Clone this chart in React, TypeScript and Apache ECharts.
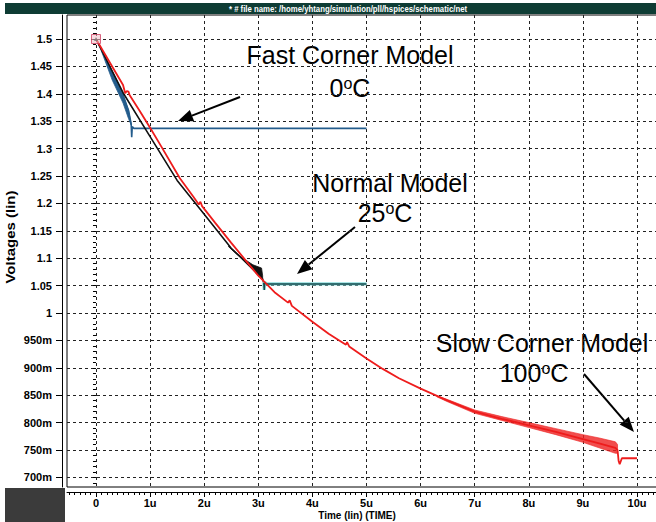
import React, { useEffect, useRef } from 'react';
import * as echarts from 'echarts';

const xTickValues = [0, 1, 2, 3, 4, 5, 6, 7, 8, 9, 10];
const xTickLabels = ['0', '1u', '2u', '3u', '4u', '5u', '6u', '7u', '8u', '9u', '10u'];
const yTickValues = [0.7, 0.75, 0.8, 0.85, 0.9, 0.95, 1, 1.05, 1.1, 1.15, 1.2, 1.25, 1.3, 1.35, 1.4, 1.45, 1.5];
const yTickLabels = ['700m', '750m', '800m', '850m', '900m', '950m', '1', '1.05', '1.1', '1.15', '1.2', '1.25', '1.3', '1.35', '1.4', '1.45', '1.5'];

// Fast corner model, 0 C (blue)
const fastLine: [number, number][] = [
  [0, 1.5], [0.2, 1.46], [0.4, 1.42], [0.5, 1.398], [0.6, 1.37], [0.65, 1.345],
  [0.66, 1.321], [0.67, 1.34], [0.7, 1.337], [5, 1.337],
];
const fastWedgeLower: [number, number][] = [
  [0.1, 1.478], [0.3, 1.425], [0.5, 1.383], [0.6, 1.355], [0.65, 1.343],
];
const fastWedgeUpper: [number, number][] = [
  [0.1, 1.48], [0.2, 1.46], [0.4, 1.42], [0.5, 1.398], [0.6, 1.37], [0.65, 1.345],
];

// Normal model, 25 C (black, then teal flat)
const normalLine: [number, number][] = [
  [0, 1.5], [0.5, 1.402], [1, 1.322], [1.5, 1.242], [2, 1.18], [2.5, 1.118],
  [2.7, 1.099], [3, 1.07], [3.08, 1.062], [3.1, 1.055],
];
const normalWedgeUpper: [number, number][] = [
  [2.45, 1.122], [2.7, 1.101], [2.9, 1.088], [3.06, 1.082], [3.08, 1.068],
];
const normalWedgeLower: [number, number][] = [
  [2.45, 1.121], [2.7, 1.099], [3, 1.07], [3.08, 1.062],
];
const normalFlat: [number, number][] = [
  [3.1, 1.055], [3.11, 1.042], [3.12, 1.056], [3.15, 1.053], [5, 1.053],
];

// Slow corner model, 100 C (red)
const slowLine: [number, number][] = [
  [0, 1.5], [0.25, 1.458], [0.5, 1.416], [0.54, 1.401], [0.57, 1.405], [0.6, 1.404],
  [0.62, 1.398], [0.8, 1.37], [1, 1.338], [1.2, 1.305], [1.55, 1.246], [1.8, 1.212],
  [1.9, 1.198], [1.93, 1.203], [1.96, 1.195], [2.2, 1.165], [2.5, 1.128], [2.8, 1.092],
  [3, 1.068], [3.3, 1.038], [3.55, 1.019], [3.58, 1.023], [3.62, 1.013], [4, 0.984],
  [4.3, 0.962], [4.62, 0.942], [4.64, 0.947], [4.68, 0.939], [5, 0.917], [5.3, 0.898],
  [5.6, 0.881], [6, 0.862], [6.5, 0.84], [7, 0.82], [7.5, 0.807], [8, 0.795],
  [8.5, 0.783], [9, 0.77], [9.3, 0.762], [9.6, 0.754], [9.64, 0.75], [9.66, 0.73],
  [9.68, 0.724], [9.72, 0.735], [10, 0.735],
];
const slowBandUpper: [number, number][] = [
  [6.3, 0.849], [6.5, 0.842], [7, 0.823], [7.5, 0.811], [8, 0.8], [8.5, 0.789],
  [9, 0.778], [9.3, 0.772], [9.6, 0.765], [9.64, 0.76],
];
const slowBandLower: [number, number][] = [
  [6.3, 0.847], [6.5, 0.838], [7, 0.817], [7.5, 0.804], [8, 0.791], [8.5, 0.778],
  [9, 0.764], [9.3, 0.754], [9.6, 0.744], [9.64, 0.744],
];

const startMarker: [number, number][] = [[0, 1.5]];

const LABEL_FONT = '"Liberation Sans", Arial, sans-serif';

function bandSeries(upper: [number, number][], lower: [number, number][], color: string, z: number, opacity = 1) {
  return {
    type: 'custom',
    coordinateSystem: 'cartesian2d',
    silent: true,
    z,
    data: [[upper[0][0], upper[0][1]]],
    renderItem: (_params: any, api: any) => ({
      type: 'polygon',
      shape: { points: [...upper, ...lower.slice().reverse()].map((p) => api.coord(p)) },
      style: { fill: color, stroke: color, lineWidth: 0.8, opacity },
    }),
  };
}

function arrow(x1: number, y1: number, x2: number, y2: number) {
  const ang = Math.atan2(y2 - y1, x2 - x1);
  const len = 15;
  const half = 6;
  const bx = x2 - len * Math.cos(ang);
  const by = y2 - len * Math.sin(ang);
  const px = -Math.sin(ang) * half;
  const py = Math.cos(ang) * half;
  return [
    { type: 'line', silent: true, shape: { x1, y1, x2: bx, y2: by }, style: { stroke: '#000', lineWidth: 2 } },
    {
      type: 'polygon', silent: true,
      shape: { points: [[x2, y2], [bx + px, by + py], [bx - px, by - py]] },
      style: { fill: '#000' },
    },
  ];
}

function annot(text: string, cx: number, cy: number) {
  return {
    type: 'text', silent: true, x: cx, y: cy,
    style: {
      text,
      textAlign: 'center', textVerticalAlign: 'middle',
      fill: '#000',
      font: '25px "Liberation Sans", Arial, sans-serif',
      rich: {
        s: { fontSize: 16, verticalAlign: 'top', fill: '#000', fontFamily: '"Liberation Sans", Arial, sans-serif' },
      },
    },
  };
}

const X_MIN = -0.536;
const X_MAX = 10.924;
const Y_MIN = 0.6825;
const Y_MAX = 1.5438;

function minorValues(from: number, to: number, step: number) {
  const out: number[] = [];
  const n = Math.round((to - from) / step);
  for (let i = 0; i <= n; i++) out.push(+(from + i * step).toFixed(4));
  return out;
}

export default function App() {
  const ref = useRef<HTMLDivElement>(null);
  useEffect(() => {
    if (!ref.current) return;
    const chart = echarts.init(ref.current, undefined, { renderer: 'svg' });
    const labelOf = (vals: number[], labels: string[]) => (v: number) => {
      const i = vals.findIndex((t) => Math.abs(t - v) < 1e-6);
      return i >= 0 ? labels[i] : '';
    };
    const gridLine = { show: true, lineStyle: { color: '#222', width: 1, type: [3, 3] } };
    const option: any = {
      animation: false,
      backgroundColor: '#fff',
      grid: {
        left: 67, top: 15, width: 620, height: 472, show: true, borderColor: '#000', borderWidth: 1,
        backgroundColor: '#fff', containLabel: false, outerBoundsMode: 'none',
      },
      xAxis: [
        {
          type: 'value', min: X_MIN, max: X_MAX, offset: 5,
          axisLine: { show: true, onZero: false, lineStyle: { color: '#000', width: 1 } },
          axisTick: { show: true, length: 5, customValues: xTickValues, lineStyle: { color: '#000' } },
          axisLabel: {
            customValues: xTickValues, formatter: labelOf(xTickValues, xTickLabels),
            margin: 5, color: '#000', fontWeight: 'bold', fontSize: 11, fontFamily: LABEL_FONT,
          },
          splitLine: gridLine,
        },
        {
          type: 'value', min: X_MIN, max: X_MAX, offset: 5, position: 'bottom',
          axisLine: { show: false },
          axisTick: { show: true, length: 3, customValues: minorValues(-0.5, 10.9, 0.1), lineStyle: { color: '#000' } },
          axisLabel: { show: false },
          splitLine: { show: false },
        },
      ],
      yAxis: [
        {
          type: 'value', min: Y_MIN, max: Y_MAX, offset: 5,
          axisLine: { show: true, onZero: false, lineStyle: { color: '#000', width: 1 } },
          axisTick: { show: true, length: 6, customValues: yTickValues, lineStyle: { color: '#000' } },
          axisLabel: {
            customValues: yTickValues, formatter: labelOf(yTickValues, yTickLabels),
            margin: 10, color: '#000', fontWeight: 'bold', fontSize: 11, fontFamily: LABEL_FONT,
          },
          splitLine: gridLine,
        },
        {
          type: 'value', min: Y_MIN, max: Y_MAX, offset: 5, position: 'left',
          axisLine: { show: false },
          axisTick: { show: true, length: 3, customValues: minorValues(0.69, 1.54, 0.01), lineStyle: { color: '#000' } },
          axisLabel: { show: false },
          splitLine: { show: false },
        },
      ],
      series: [
        bandSeries(fastWedgeUpper, fastWedgeLower, '#235c8c', 3),
        {
          type: 'line', name: 'Fast Corner Model 0C', data: fastLine, showSymbol: false, symbol: 'none', z: 3,
          lineStyle: { color: '#235c8c', width: 1.6 },
        },
        bandSeries(normalWedgeUpper, normalWedgeLower, '#111', 4),
        {
          type: 'line', name: 'Normal Model 25C', data: normalLine, symbol: 'none', z: 4,
          lineStyle: { color: '#111', width: 1.6 },
        },
        {
          type: 'line', name: 'Normal Model 25C flat halo', data: normalFlat, symbol: 'none', z: 4,
          lineStyle: { color: '#8fdede', width: 3.2 },
        },
        {
          type: 'line', name: 'Normal Model 25C flat', data: normalFlat, symbol: 'none', z: 4,
          lineStyle: { color: '#14494c', width: 1.4 },
        },
        bandSeries(slowBandUpper, slowBandLower, '#ee2222', 5, 0.8),
        {
          type: 'line', name: 'Slow Corner Model 100C', data: slowLine, symbol: 'none', z: 5,
          lineStyle: { color: '#ee1c1c', width: 1.8 },
        },
        {
          type: 'scatter', data: startMarker, symbol: 'rect', symbolSize: 9, z: 6,
          itemStyle: { color: 'rgba(240,190,200,0.7)', borderColor: '#d04060', borderWidth: 1 },
        },
        {
          type: 'scatter', data: startMarker, symbol: 'triangle', symbolSize: 4, z: 7,
          itemStyle: { color: '#777' },
        },
      ],
      graphic: [
        { type: 'rect', silent: true, shape: { x: 5, y: 3, width: 651, height: 11 }, style: { fill: '#0e3c34' } },
        {
          type: 'text', silent: true, x: 348, y: 9, scaleX: 0.82,
          style: {
            text: '* # file name: /home/yhtang/simulation/pll/hspices/schematic/net',
            fill: '#fff', font: 'bold 9.5px "Liberation Sans Narrow", "Liberation Sans", Arial',
            textAlign: 'center', textVerticalAlign: 'middle',
          },
        },
        { type: 'rect', silent: true, shape: { x: 5, y: 488, width: 60, height: 34 }, style: { fill: '#3b3b3b' } },
        {
          type: 'text', silent: true, x: 11, y: 237, rotation: Math.PI / 2, scaleX: 1.25,
          style: {
            text: 'Voltages (lin)', fill: '#000', font: 'bold 12px "Liberation Sans", Arial',
            textAlign: 'center', textVerticalAlign: 'middle',
          },
        },
        {
          type: 'text', silent: true, x: 357, y: 515,
          style: {
            text: 'Time (lin) (TIME)', fill: '#000', font: 'bold 10px "Liberation Sans", Arial',
            textAlign: 'center', textVerticalAlign: 'middle',
          },
        },
        annot('Fast Corner Model', 350, 55),
        annot('0{s|o}C', 350, 88),
        annot('Normal Model', 390, 183),
        annot('25{s|o}C', 385, 213),
        annot('Slow Corner Model', 542, 343),
        annot('100{s|o}C', 534, 373),
        ...arrow(240, 97, 178, 121),
        ...arrow(355, 227, 297, 274),
        ...arrow(584, 374, 634, 432),
      ],
    };
    chart.setOption(option);
    return () => chart.dispose();
  }, []);
  return (
    <div
      ref={ref}
      style={{ position: 'fixed', left: 0, top: 0, width: 656, height: 522, background: '#fff' }}
    />
  );
}
